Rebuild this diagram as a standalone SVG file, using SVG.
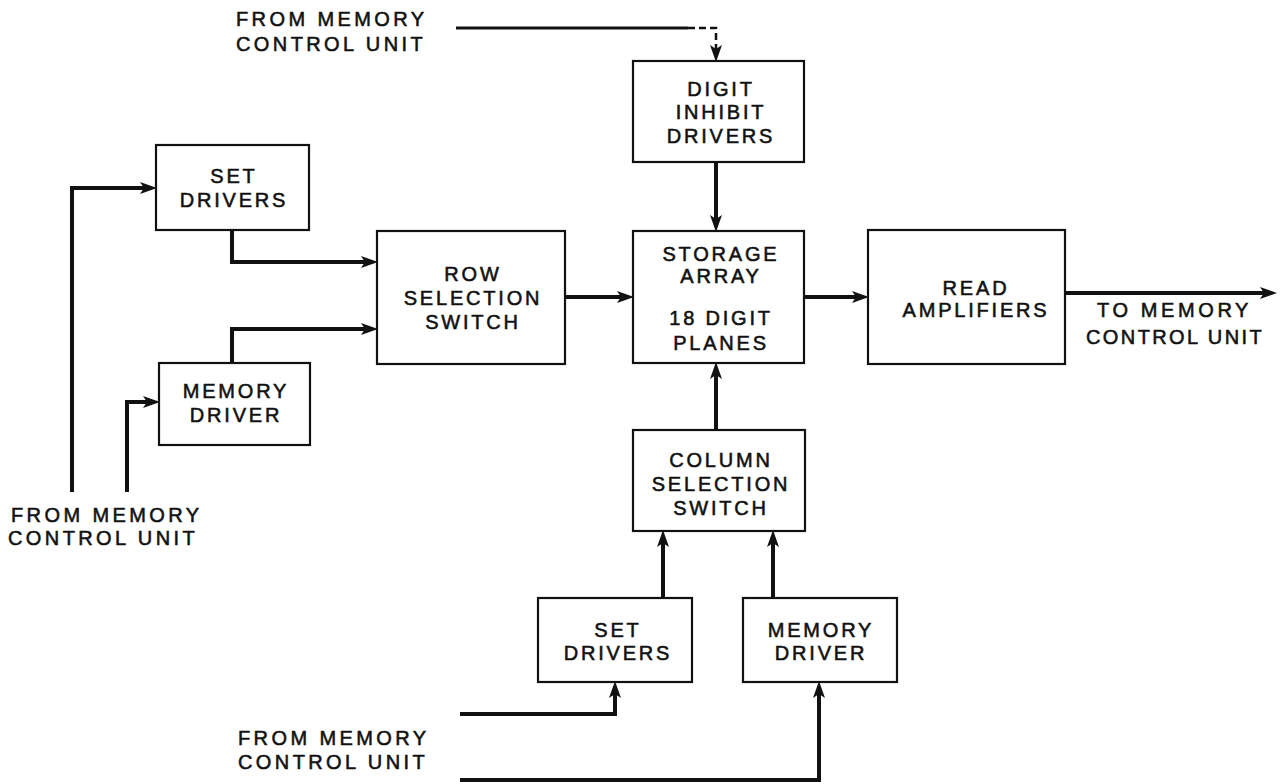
<svg xmlns="http://www.w3.org/2000/svg" width="1280" height="784" viewBox="0 0 1280 784">
<style>
.box{fill:#fff;stroke:#111;stroke-width:2.2}
.lbl{font-family:"Liberation Sans",Arial,sans-serif;font-size:20px;letter-spacing:2.8px;fill:#111;text-anchor:middle;stroke:#111;stroke-width:0.55}
.ext{font-family:"Liberation Sans",Arial,sans-serif;font-size:20px;letter-spacing:3.4px;fill:#111;stroke:#111;stroke-width:0.55}
.wire{fill:none;stroke:#111;stroke-width:4;marker-end:url(#ah)}
</style>
<defs>
<marker id="ah" markerUnits="userSpaceOnUse" markerWidth="18" markerHeight="12" refX="8" refY="6" orient="auto">
<path d="M0,0 L17,6 L0,12 L4,6 z" fill="#111"/>
</marker>
</defs>
<rect width="1280" height="784" fill="#fff"/>

<g id="connectors">
<path class="wire" d="M72,492 V188 H148"/>
<path class="wire" d="M127,492 V402 H151"/>
<path class="wire" d="M232,230 V262 H369"/>
<path class="wire" d="M232,363 V329 H369"/>
<path class="wire" d="M565,297 H625"/>
<path class="wire" d="M805,297 H860"/>
<path class="wire" d="M1065,293 H1268"/>
<path class="wire" d="M716,162 V223"/>
<path class="wire" d="M716,430 V371"/>
<path class="wire" d="M663,598 V539"/>
<path class="wire" d="M773,598 V539"/>
<path class="wire" d="M460,714 H615 V690"/>
<path class="wire" d="M460,780 H819 V690"/>
<path d="M456,28 H688" fill="none" stroke="#111" stroke-width="3"/>
<path d="M688,28 H716 V53" fill="none" stroke="#111" stroke-width="2.5" stroke-dasharray="7 4" marker-end="url(#ah)"/>
</g>

<g id="from-top">
<text class="ext" x="236" y="26">FROM MEMORY</text>
<text class="ext" x="236" y="51">CONTROL UNIT</text>
</g>

<g id="digit-inhibit">
<rect class="box" x="633" y="61" width="171" height="101"/>
<text class="lbl" x="721" y="96">DIGIT</text>
<text class="lbl" x="721" y="119">INHIBIT</text>
<text class="lbl" x="721" y="143">DRIVERS</text>
</g>

<g id="set-drivers-left">
<rect class="box" x="156" y="145" width="153" height="85"/>
<text class="lbl" x="234" y="183">SET</text>
<text class="lbl" x="234" y="207">DRIVERS</text>
</g>

<g id="memory-driver-left">
<rect class="box" x="159" y="363" width="151" height="82"/>
<text class="lbl" x="236" y="398">MEMORY</text>
<text class="lbl" x="236" y="422">DRIVER</text>
</g>

<g id="row-selection">
<rect class="box" x="377" y="231" width="188" height="133"/>
<text class="lbl" x="473" y="281">ROW</text>
<text class="lbl" x="473" y="305">SELECTION</text>
<text class="lbl" x="473" y="329">SWITCH</text>
</g>

<g id="storage-array">
<rect class="box" x="633" y="231" width="171" height="132"/>
<text class="lbl" x="721" y="261">STORAGE</text>
<text class="lbl" x="721" y="283">ARRAY</text>
<text class="lbl" x="721" y="325">18 DIGIT</text>
<text class="lbl" x="721" y="350">PLANES</text>
</g>

<g id="read-amplifiers">
<rect class="box" x="868" y="230" width="197" height="134"/>
<text class="lbl" x="976" y="295">READ</text>
<text class="lbl" x="976" y="317">AMPLIFIERS</text>
</g>

<g id="to-right">
<text class="ext" x="1097" y="317" style="letter-spacing:3.6px">TO MEMORY</text>
<text class="ext" x="1086" y="344" style="letter-spacing:2.4px">CONTROL UNIT</text>
</g>

<g id="column-selection">
<rect class="box" x="633" y="430" width="172" height="101"/>
<text class="lbl" x="721" y="467">COLUMN</text>
<text class="lbl" x="721" y="491">SELECTION</text>
<text class="lbl" x="721" y="515">SWITCH</text>
</g>

<g id="set-drivers-bottom">
<rect class="box" x="538" y="598" width="154" height="84"/>
<text class="lbl" x="618" y="637">SET</text>
<text class="lbl" x="618" y="660">DRIVERS</text>
</g>

<g id="memory-driver-bottom">
<rect class="box" x="743" y="598" width="154" height="84"/>
<text class="lbl" x="821" y="637">MEMORY</text>
<text class="lbl" x="821" y="660">DRIVER</text>
</g>

<g id="from-left">
<text class="ext" x="11" y="522">FROM MEMORY</text>
<text class="ext" x="8" y="545">CONTROL UNIT</text>
</g>

<g id="from-bottom">
<text class="ext" x="238" y="745">FROM MEMORY</text>
<text class="ext" x="238" y="769">CONTROL UNIT</text>
</g>
</svg>
